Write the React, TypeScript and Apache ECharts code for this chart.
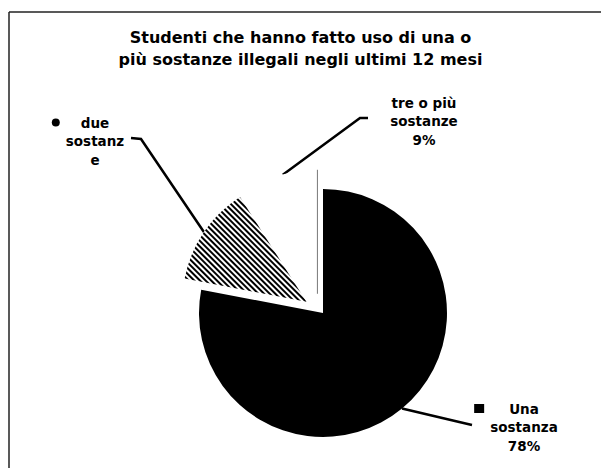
import React, { useEffect, useRef } from 'react';
import * as echarts from 'echarts';

const categories = ['Una sostanza', 'due sostanze', 'tre o più sostanze'];
const values = [78, 13, 9];
const exploded = [false, true, true];
const titleText = 'Studenti che hanno fatto uso di una o\npiù sostanze illegali negli ultimi 12 mesi';
const labelTexts = [
  '{m| }{g| }{t|Una}{s| }\n{t|sostanza}\n{t|78%}',
  '{d| }{h| }{t|due}{k| }\n{t|sostanz}\n{t|e}',
  '{t|tre o più}\n{t|sostanze}\n{t|9%}',
];

const FONT = 'DejaVu Sans';

export default function App() {
  const ref = useRef<HTMLDivElement>(null);
  useEffect(() => {
    if (!ref.current) return;
    const chart = echarts.init(ref.current, undefined, { renderer: 'svg' });
    const cx = 323;
    const cy = 313;
    const r = 124;
    const off = 20;
    const total = values.reduce((a, b) => a + b, 0);
    const starts: number[] = [];
    let acc = 0;
    values.forEach((v) => {
      starts.push(acc);
      acc += v;
    });
    const mids = values.map((v, i) => ((starts[i] + v / 2) / total) * Math.PI * 2);
    const apex = values.map((_, i) => {
      const d = exploded[i] ? off : 0;
      return [cx + d * Math.sin(mids[i]), cy - d * Math.cos(mids[i])];
    });
    const arcPt = values.map((_, i) => [
      apex[i][0] + r * Math.sin(mids[i]),
      apex[i][1] - r * Math.cos(mids[i]),
    ]);
    const labelPos = [
      [524, 427],
      [95, 141],
      [424, 121],
    ];
    const bends = [
      [[455, 421], [472, 425]],
      [[141, 139], [131, 138]],
      [[360, 118], [368, 118]],
    ];
    const whiteEdgeX = apex[2][0];
    const whiteEdgeY = apex[2][1];

    const fills: any[] = [
      { color: '#000', borderWidth: 0 },
      {
        color: '#fff',
        borderWidth: 0,
        decal: {
          symbol: 'rect',
          symbolSize: 1,
          dashArrayX: [1, 0],
          dashArrayY: [2, 2],
          rotation: Math.PI / 4,
          color: '#000',
        },
      },
      { color: '#fff', borderWidth: 0 },
    ];

    const labelBase = {
      show: true,
      position: 'outside',
      color: '#000',
      fontFamily: FONT,
      fontWeight: 'bold',
      fontSize: 13.5,
      lineHeight: 18.5,
      align: 'center',
      formatter: (p: any) => labelTexts[p.dataIndex],
      rich: {
        t: { fontFamily: FONT, fontWeight: 'bold', fontSize: 13.5, lineHeight: 18.5, color: '#000' },
        m: { width: 10, height: 9, backgroundColor: '#000' },
        g: { width: 25 },
        s: { width: 35 },
        d: { width: 8, height: 8, backgroundColor: '#000', borderRadius: 4 },
        h: { width: 21 },
        k: { width: 29 },
      },
    };

    // one pie series per slice so each can be pulled out along its own mid-angle
    const order = [2, 1, 0];
    const series = order.map((own) => ({
      type: 'pie',
      name: categories[own],
      center: [apex[own][0], apex[own][1]],
      radius: r,
      startAngle: 90,
      clockwise: true,
      avoidLabelOverlap: false,
      silent: true,
      emphasis: { disabled: true },
      label: labelBase,
      labelLine: { show: true, lineStyle: { color: '#000', width: 2.5 } },
      labelLayout: (params: any) => {
        const i = params.dataIndex;
        return {
          x: labelPos[i][0],
          y: labelPos[i][1],
          align: 'center',
          verticalAlign: 'middle',
          labelLinePoints: [arcPt[i], bends[i][0], bends[i][1]],
        };
      },
      data: categories.map((name, i) =>
        i === own
          ? { name, value: values[i], itemStyle: fills[i] }
          : {
              name,
              value: values[i],
              itemStyle: { color: 'rgba(0,0,0,0)', borderWidth: 0 },
              label: { show: false },
              labelLine: { show: false },
            }
      ),
    }));

    const option: any = {
      animation: false,
      backgroundColor: '#ffffff',
      title: {
        text: titleText,
        left: 'center',
        top: 21,
        textStyle: {
          fontFamily: FONT,
          fontWeight: 'bold',
          fontSize: 16,
          lineHeight: 22,
          color: '#000',
        },
      },
      graphic: [
        { type: 'line', shape: { x1: 9, y1: 12, x2: 9, y2: 468 }, style: { stroke: '#222', lineWidth: 1.5 } },
        { type: 'line', shape: { x1: 9, y1: 12, x2: 601, y2: 12 }, style: { stroke: '#222', lineWidth: 1.5 } },
        {
          type: 'line',
          z: 10,
          shape: { x1: whiteEdgeX, y1: whiteEdgeY, x2: whiteEdgeX, y2: whiteEdgeY - r },
          style: { stroke: '#777', lineWidth: 1 },
        },
      ],
      series,
    };
    chart.setOption(option);
    return () => chart.dispose();
  }, []);
  return (
    <div
      ref={ref}
      style={{ position: 'absolute', left: 0, top: 0, width: 601, height: 468, background: '#fff' }}
    />
  );
}
